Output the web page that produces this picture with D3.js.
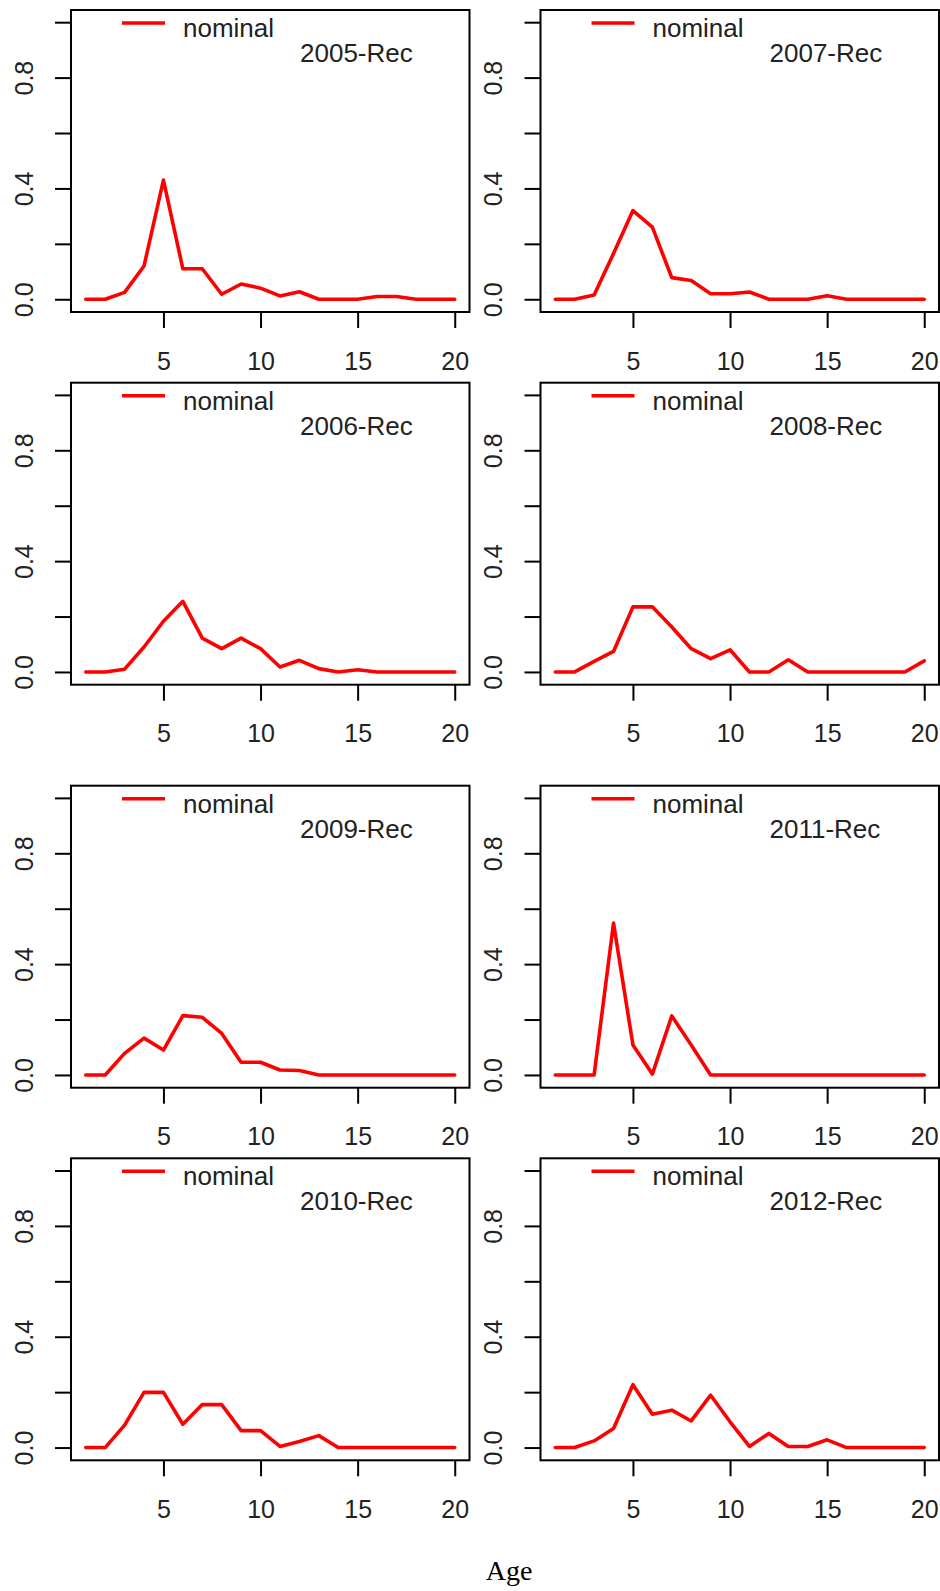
<!DOCTYPE html>
<html>
<head>
<meta charset="utf-8">
<script src="https://cdn.jsdelivr.net/npm/d3@7"></script>
<style>
  html, body { margin: 0; padding: 0; background: #ffffff; }
  svg { display: block; }
</style>
</head>
<body>
<svg id="chart" width="940" height="1591"></svg>
<script>
// ---------- data ----------
const ages = [1, 2, 3, 4, 5, 6, 7, 8, 9, 10, 11, 12, 13, 14, 15, 16, 17, 18, 19, 20];

const rec2005 = [0, 0, 0.025, 0.12, 0.43, 0.11, 0.11, 0.018, 0.055, 0.04, 0.012, 0.027, 0, 0, 0, 0.01, 0.01, 0, 0, 0];
const rec2007 = [0, 0, 0.015, 0.165, 0.32, 0.26, 0.078, 0.068, 0.02, 0.02, 0.026, 0, 0, 0, 0.013, 0, 0, 0, 0, 0];
const rec2006 = [0, 0, 0.01, 0.09, 0.183, 0.255, 0.122, 0.084, 0.122, 0.084, 0.018, 0.042, 0.012, 0, 0.008, 0, 0, 0, 0, 0];
const rec2008 = [0, 0, 0.038, 0.074, 0.235, 0.235, 0.162, 0.084, 0.048, 0.08, 0, 0, 0.044, 0, 0, 0, 0, 0, 0, 0.04];
const rec2009 = [0, 0, 0.078, 0.133, 0.09, 0.214, 0.208, 0.15, 0.046, 0.046, 0.018, 0.016, 0, 0, 0, 0, 0, 0, 0, 0];
const rec2011 = [0, 0, 0, 0.548, 0.108, 0.003, 0.213, 0.108, 0, 0, 0, 0, 0, 0, 0, 0, 0, 0, 0, 0];
const rec2010 = [0, 0, 0.081, 0.199, 0.199, 0.084, 0.155, 0.155, 0.061, 0.061, 0.004, 0.022, 0.043, 0, 0, 0, 0, 0, 0, 0];
const rec2012 = [0, 0, 0.024, 0.069, 0.227, 0.12, 0.135, 0.096, 0.189, 0.093, 0.004, 0.051, 0.004, 0.004, 0.028, 0, 0, 0, 0, 0];

// panel order: row by row, left then right
const panelTitles = ["2005-Rec", "2007-Rec", "2006-Rec", "2008-Rec", "2009-Rec", "2011-Rec", "2010-Rec", "2012-Rec"];
const panelSeries = [rec2005, rec2007, rec2006, rec2008, rec2009, rec2011, rec2010, rec2012];

const legendLabel = "nominal";
const xTicks = [5, 10, 15, 20];
const yTicks = [0, 0.2, 0.4, 0.6, 0.8, 1.0];
const yLabelledTicks = [0, 0.4, 0.8];
const xAxisTitle = "Age";

// ---------- layout ----------
const colLeft = [71, 540.5];
const rowTop = [10, 382.7, 785.7, 1158.3];
const boxW = 398.5;
const boxH = 302;
const sansFont = "'Liberation Sans', Arial, sans-serif";
const textColor = "#222";

const svg = d3.select("#chart");

panelSeries.forEach((series, i) => {
  const col = i % 2;
  const row = Math.floor(i / 2);
  const left = colLeft[col];
  const top = rowTop[row];

  const x = d3.scaleLinear().domain([0.24, 20.76]).range([left, left + boxW]);
  const y = d3.scaleLinear().domain([-0.046, 1.044]).range([top + boxH, top]);

  const g = svg.append("g");

  // x axis
  const xAxis = d3.axisBottom(x)
    .tickValues(xTicks)
    .tickSize(16)
    .tickPadding(24)
    .tickFormat(d3.format("d"));
  const gx = g.append("g")
    .attr("transform", `translate(0,${top + boxH})`)
    .call(xAxis);
  gx.select(".domain").remove();
  gx.selectAll(".tick line").attr("stroke", "#000").attr("stroke-width", 2);
  gx.selectAll(".tick text")
    .attr("fill", textColor)
    .style("font-family", sansFont)
    .style("font-size", "25px");

  // y axis
  const yAxis = d3.axisLeft(y)
    .tickValues(yTicks)
    .tickSize(16)
    .tickFormat(d => yLabelledTicks.some(v => Math.abs(v - d) < 1e-9) ? d3.format(".1f")(d) : "");
  const gy = g.append("g")
    .attr("transform", `translate(${left},0)`)
    .call(yAxis);
  gy.select(".domain").remove();
  gy.selectAll(".tick line").attr("stroke", "#000").attr("stroke-width", 2);
  gy.selectAll(".tick text")
    .attr("x", null)
    .attr("dy", null)
    .attr("text-anchor", "middle")
    .attr("transform", "translate(-47.5,0) rotate(-90)")
    .attr("dy", "0.36em")
    .attr("fill", textColor)
    .style("font-family", sansFont)
    .style("font-size", "25px");

  // box
  g.append("rect")
    .attr("x", left).attr("y", top)
    .attr("width", boxW).attr("height", boxH)
    .attr("fill", "none")
    .attr("stroke", "#000")
    .attr("stroke-width", 2);

  // series line
  const line = d3.line()
    .x((d, j) => x(ages[j]))
    .y(d => y(d));
  g.append("path")
    .datum(series)
    .attr("d", line)
    .attr("fill", "none")
    .attr("stroke", "#ff0000")
    .attr("stroke-width", 3.6)
    .attr("stroke-linejoin", "round")
    .attr("stroke-linecap", "round");

  // legend
  g.append("line")
    .attr("x1", left + 51).attr("x2", left + 94)
    .attr("y1", top + 13).attr("y2", top + 13)
    .attr("stroke", "#ff0000")
    .attr("stroke-width", 3.6);
  g.append("text")
    .attr("x", left + 112)
    .attr("y", top + 27)
    .attr("fill", textColor)
    .style("font-family", sansFont)
    .style("font-size", "26px")
    .text(legendLabel);

  // panel title
  g.append("text")
    .attr("x", left + 229)
    .attr("y", top + 52)
    .attr("fill", textColor)
    .style("font-family", sansFont)
    .style("font-size", "26px")
    .text(panelTitles[i]);
});

// common x axis title
svg.append("text")
  .attr("x", 509)
  .attr("y", 1580)
  .attr("text-anchor", "middle")
  .attr("fill", "#000")
  .style("font-family", "'Liberation Serif', 'Times New Roman', serif")
  .style("font-size", "28px")
  .text(xAxisTitle);
</script>
</body>
</html>
